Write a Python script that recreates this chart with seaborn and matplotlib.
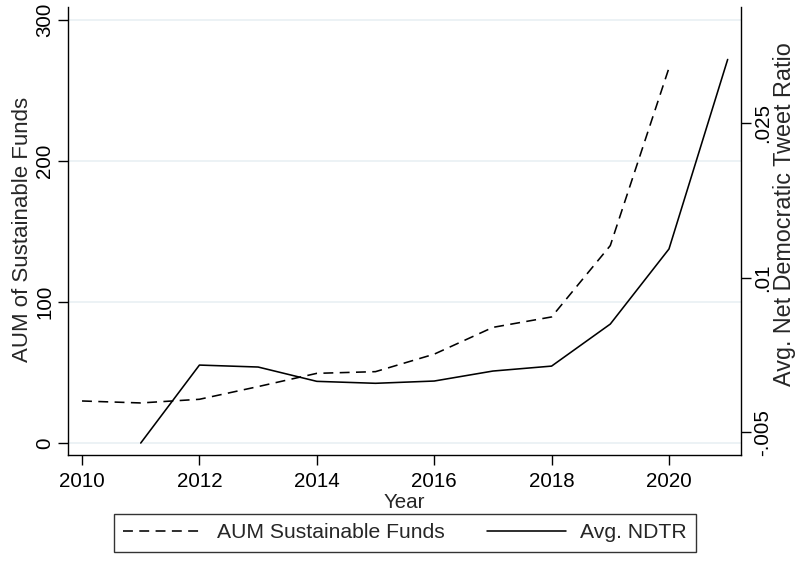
import matplotlib
matplotlib.use("Agg")
import matplotlib.pyplot as plt
import seaborn as sns
import pandas as pd

# Annual series
years_aum = [2010, 2011, 2012, 2013, 2014, 2015, 2016, 2017, 2018, 2019, 2020]
aum_values = [29.8, 28.4, 31.0, 40.0, 49.4, 50.6, 63.0, 82.0, 89.4, 140.0, 266.0]

years_ndtr = [2011, 2012, 2013, 2014, 2015, 2016, 2017, 2018, 2019, 2020, 2021]
ndtr_values = [-0.00604, 0.00153, 0.00134, -0.00005, -0.00024, -0.00002,
               0.00095, 0.00143, 0.00551, 0.0128, 0.0312]

x_ticks = [2010, 2012, 2014, 2016, 2018, 2020]
left_ticks = [0, 100, 200, 300]
left_tick_labels = ["0", "100", "200", "300"]
right_ticks = [-0.005, 0.01, 0.025]
right_tick_labels = ["-.005", ".01", ".025"]

aum_df = pd.DataFrame({"Year": years_aum, "AUM": aum_values})
ndtr_df = pd.DataFrame({"Year": years_ndtr, "NDTR": ndtr_values})

sns.set_theme(style="white")
plt.rcParams["font.family"] = ["Liberation Sans", "DejaVu Sans"]

W, H = 795, 565
fig = plt.figure(figsize=(W / 100, H / 100), dpi=100)
ax_w = 741 - 68
ax_h = 455 - 7
ax = fig.add_axes([68 / W, 1 - 455 / H, ax_w / W, ax_h / H])
ax2 = ax.twinx()

fs = 14.8
lw = 1.15

sns.lineplot(data=aum_df, x="Year", y="AUM", ax=ax, color="black", lw=lw,
             label="AUM Sustainable Funds", legend=False)
ax.lines[-1].set_dashes((6.2, 4.0))
sns.lineplot(data=ndtr_df, x="Year", y="NDTR", ax=ax2, color="black", lw=lw,
             label="Avg. NDTR", legend=False)

ax.set_xlim(2009.761, 2021.227)
ax.set_ylim(-8.51, 309.2)
ax2.set_ylim(-0.0072, 0.03629)

# light horizontal gridlines on the left scale
for v in left_ticks:
    ax.axhline(v, color="#e9f0f3", lw=1.2, zorder=0)

ax.set_xticks(x_ticks)
ax.set_xticklabels([str(x) for x in x_ticks], fontsize=fs)
ax.set_yticks(left_ticks)
ax.set_yticklabels(left_tick_labels, fontsize=fs, rotation=90, va="center")
ax2.set_yticks(right_ticks)
ax2.set_yticklabels(right_tick_labels, fontsize=fs, rotation=90, va="center")

ax.set_xlabel("Year", fontsize=fs, labelpad=2)
ax.set_ylabel("AUM of Sustainable Funds", fontsize=16)
ax2.set_ylabel("Avg. Net Democratic Tweet Ratio", fontsize=16.8)

# place the axis titles by their centres
ax.yaxis.set_label_coords((22 - 68) / ax_w, (455 - 229) / ax_h)
ax2.yaxis.set_label_coords((785 - 68) / ax_w, (455 - 214) / ax_h)
for lab in (ax.yaxis.label, ax2.yaxis.label):
    lab.set_verticalalignment("center")
    lab.set_horizontalalignment("center")
    lab.set_rotation_mode("anchor")
    lab.set_rotation(90)

for a in (ax, ax2):
    a.spines["top"].set_visible(False)
    for s in ("left", "right", "bottom"):
        a.spines[s].set_color("black")
        a.spines[s].set_linewidth(1.0)
    a.tick_params(axis="both", direction="out", length=7, width=1.0,
                  color="black", labelcolor="black", pad=3)
    a.grid(False)
ax2.spines["left"].set_visible(False)
ax2.spines["bottom"].set_visible(False)
ax.spines["right"].set_visible(False)
ax.tick_params(axis="y", left=True, right=False)
ax.tick_params(axis="x", bottom=True, pad=5)
ax2.tick_params(axis="y", right=True, left=False, pad=2)

handles = ax.get_lines()[:1] + ax2.get_lines()[:1]
labels = ["AUM Sustainable Funds", "Avg. NDTR"]
leg = fig.legend(handles, labels, loc="center",
                 bbox_to_anchor=(405 / W, 1 - 533 / H), ncol=2, fontsize=15.2,
                 frameon=True, fancybox=False, shadow=False,
                 handlelength=3.75, handletextpad=0.67, columnspacing=2.0,
                 borderpad=0.45, borderaxespad=0)
leg.get_frame().set_edgecolor("black")
leg.get_frame().set_linewidth(1.0)

fig.savefig("out.png", dpi=100, facecolor="white")
